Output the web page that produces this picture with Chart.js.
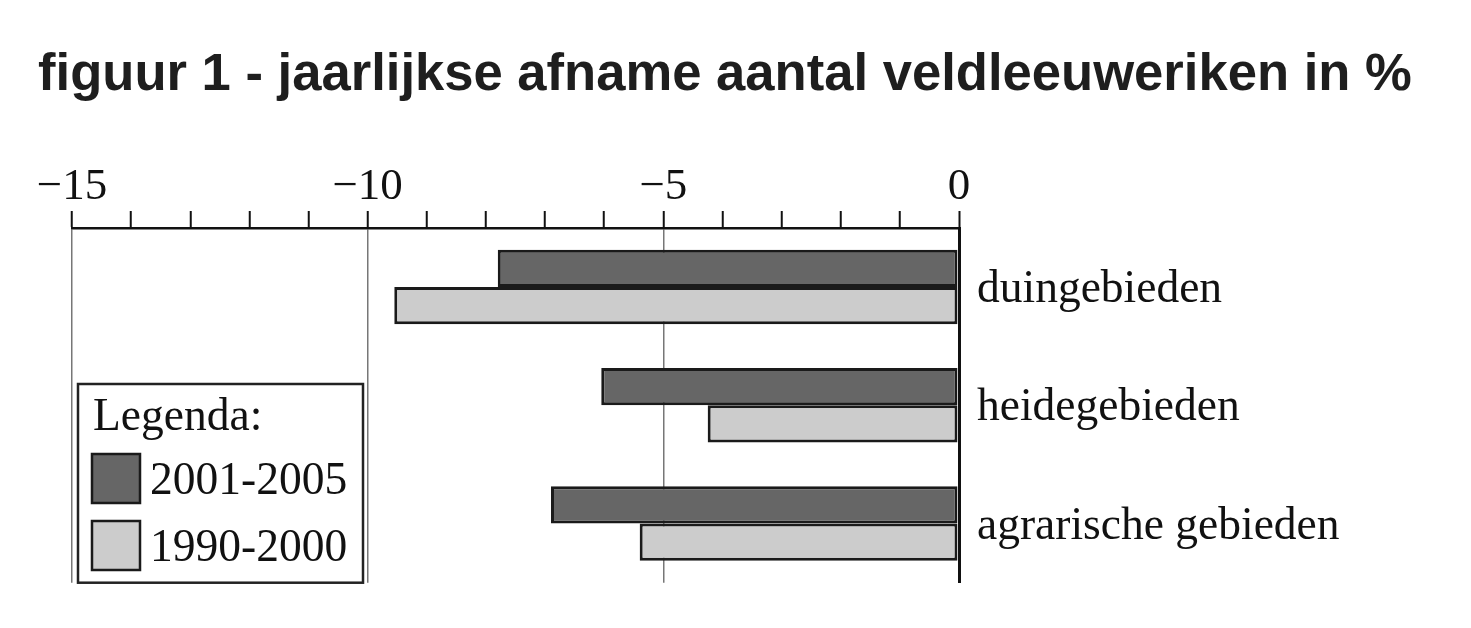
<!DOCTYPE html>
<html>
<head>
<meta charset="utf-8">
<script src="https://cdn.jsdelivr.net/npm/chart.js@4"></script>
<style>
  html, body { margin: 0; padding: 0; background: #fff; }
  #wrap { position: relative; width: 1471px; height: 628px; }
  #chartBox { position: absolute; left: 0; top: 0; width: 1471px; height: 628px; }
  #title {
    position: absolute; left: 38px; top: 46px;
    font: bold 52.6px "Liberation Sans", Arial, sans-serif;
    line-height: 52px; color: #1e1e1e; white-space: nowrap;
  }
</style>
</head>
<body>
<div id="wrap">
  <div id="chartBox"><canvas id="myChart"></canvas></div>
  <div id="title">figuur 1 - jaarlijkse afname aantal veldleeuweriken in %</div>
</div>
<script>
// data (yearly decline in %)
const categories = ["duingebieden", "heidegebieden", "agrarische gebieden"];
const periods = ["2001-2005", "1990-2000"];
const decline2001_2005 = [-7.8, -6.05, -6.9];
const decline1990_2000 = [-9.55, -4.25, -5.4];
const axisMin = -15;
const axisMax = 0;

const serif = '"Liberation Serif", "Times New Roman", serif';
const textColor = "#111";

// legend box drawn inside the plot, bottom left
const legendBox = {
  id: "legendBox",
  afterDraw(chart) {
    const c = chart.ctx;
    const area = chart.chartArea;
    const x = area.left + 6;
    const y = 384;
    const w = 285;
    const h = area.bottom - y;
    c.save();
    c.fillStyle = "#fff";
    c.fillRect(x, y, w, h);
    c.strokeStyle = "#222";
    c.lineWidth = 2.5;
    c.strokeRect(x, y, w, h);

    c.font = "45.5px " + serif;
    c.fillStyle = textColor;
    c.textBaseline = "alphabetic";
    c.textAlign = "left";
    c.fillText("Legenda:", x + 15, y + 46);

    chart.data.datasets.forEach((ds, i) => {
      const sy = y + 70 + i * 67;
      c.fillStyle = ds.backgroundColor;
      c.fillRect(x + 14, sy, 48, 49);
      c.strokeStyle = "#1a1a1a";
      c.lineWidth = 2.5;
      c.strokeRect(x + 14, sy, 48, 49);
      c.fillStyle = textColor;
      c.fillText(ds.label, x + 72, sy + 40);
    });
    c.restore();
  }
};

document.addEventListener("DOMContentLoaded", function () {
  const ctx = document.getElementById("myChart").getContext("2d");

  new Chart(ctx, {
    type: "bar",
    data: {
      labels: categories,
      datasets: [
        {
          label: periods[0],
          data: decline2001_2005,
          backgroundColor: "#666666",
          borderColor: "#1a1a1a",
          borderWidth: 3,
          borderSkipped: false
        },
        {
          label: periods[1],
          data: decline1990_2000,
          backgroundColor: "#cccccc",
          borderColor: "#1a1a1a",
          borderWidth: 3,
          borderSkipped: false
        }
      ]
    },
    options: {
      indexAxis: "y",
      responsive: true,
      maintainAspectRatio: false,
      animation: false,
      devicePixelRatio: 1,
      categoryPercentage: 0.63,
      barPercentage: 1,
      layout: {
        padding: { left: 72, top: 140, right: 0, bottom: 45 }
      },
      plugins: {
        legend: { display: false },
        tooltip: { enabled: false },
        title: { display: false }
      },
      scales: {
        x: {
          position: "top",
          min: axisMin,
          max: axisMax,
          afterFit: (scale) => { scale.height = 88; },
          ticks: {
            stepSize: 1,
            autoSkip: false,
            maxRotation: 0,
            padding: -3,
            color: textColor,
            font: { family: serif, size: 45 },
            callback: (v) => {
              if (v % 5 !== 0) return "";
              return v === 0 ? "0" : "\u2212" + Math.abs(v);
            }
          },
          grid: {
            drawOnChartArea: true,
            drawTicks: true,
            tickLength: 17,
            tickWidth: 2,
            tickColor: "#111",
            color: (c) => (c.tick && c.tick.value % 5 === 0 ? "#777" : "rgba(0,0,0,0)"),
            lineWidth: (c) => (c.tick && c.tick.value === 0 ? 3 : 1.5)
          },
          border: { display: true, color: "#111", width: 2.5 }
        },
        y: {
          position: "right",
          afterFit: (scale) => { scale.width = 512; },
          ticks: {
            padding: 18,
            labelOffset: 3,
            color: textColor,
            font: { family: serif, size: 45.5 }
          },
          grid: { display: false, drawTicks: false },
          border: { display: true, color: "#111", width: 3 }
        }
      }
    },
    plugins: [legendBox]
  });
});
</script>
</body>
</html>
